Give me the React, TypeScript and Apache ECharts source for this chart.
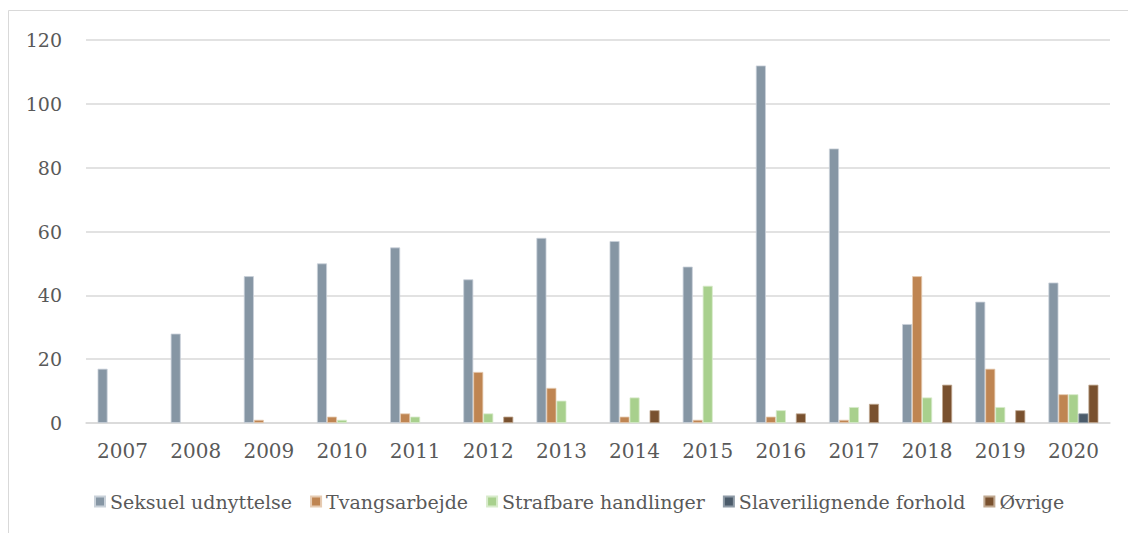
import React, { useEffect, useRef } from "react";
import * as echarts from "echarts";

const years = ["2007","2008","2009","2010","2011","2012","2013","2014","2015","2016","2017","2018","2019","2020"];
const seksuel = [17, 28, 46, 50, 55, 45, 58, 57, 49, 112, 86, 31, 38, 44];
const tvang = [0, 0, 1, 2, 3, 16, 11, 2, 1, 2, 1, 46, 17, 9];
const strafbare = [0, 0, 0, 1, 2, 3, 7, 8, 43, 4, 5, 8, 5, 9];
const slaveri = [0, 0, 0, 0, 0, 0, 0, 0, 0, 0, 0, 0, 0, 3];
const ovrige = [0, 0, 0, 0, 0, 2, 0, 4, 0, 3, 6, 12, 4, 12];
const yTicks = [0, 20, 40, 60, 80, 100, 120];

const seriesDefs = [
  { name: "Seksuel udnyttelse", data: seksuel, color: "#8696a4", border: "#c9d1d9" },
  { name: "Tvangsarbejde", data: tvang, color: "#bf8552", border: "#e6cbb2" },
  { name: "Strafbare handlinger", data: strafbare, color: "#a8d08d", border: "#d8ebcb" },
  { name: "Slaverilignende forhold", data: slaveri, color: "#4b5b6a", border: "#8e9aa6" },
  { name: "Øvrige", data: ovrige, color: "#79512f", border: "#c0a890" },
];

const FONT = "'DejaVu Serif', Georgia, serif";

export default function App() {
  const ref = useRef<HTMLDivElement>(null);
  useEffect(() => {
    const chart = echarts.init(ref.current!, null, { renderer: "svg" });
    chart.setOption({
      animation: false,
      backgroundColor: "#ffffff",
      graphic: [
        {
          type: "rect",
          shape: { x: 8.5, y: 10.5, width: 1130, height: 540 },
          style: { fill: "none", stroke: "#d9d9d9", lineWidth: 1 },
          silent: true,
        },
      ],
      grid: { left: 86, right: 18, top: 40, bottom: 110, containLabel: false },
      legend: {
        left: 89,
        top: 487,
        itemWidth: 10,
        itemHeight: 10,
        itemGap: 18,
        icon: "rect",
        textStyle: { fontFamily: FONT, fontSize: 19, color: "#595959" },
        data: seriesDefs.map((s) => s.name),
      },
      xAxis: {
        type: "category",
        data: years,
        axisLine: { lineStyle: { color: "#d9d9d9", width: 1.5 } },
        axisTick: { show: false },
        axisLabel: { fontFamily: FONT, fontSize: 20, color: "#595959", margin: 18 },
      },
      yAxis: {
        type: "value",
        min: 0,
        max: 120,
        interval: 20,
        axisLine: { show: false },
        axisTick: { show: false },
        splitLine: { lineStyle: { color: "#d9d9d9", width: 1.5 } },
        axisLabel: {
          fontFamily: FONT,
          fontSize: 19,
          color: "#595959",
          margin: 24,
          formatter: (v: number) => (yTicks.includes(v) ? String(v) : ""),
        },
      },
      series: seriesDefs.map((s) => ({
        name: s.name,
        type: "bar",
        data: s.data.map((v) => (v === 0 ? null : v)),
        barWidth: 10,
        barGap: "0%",
        itemStyle: { color: s.color, borderColor: s.border, borderWidth: 0.8 },
      })),
    });
    return () => chart.dispose();
  }, []);
  return (
    <div
      ref={ref}
      style={{ position: "absolute", left: 0, top: 0, width: 1128, height: 533 }}
    />
  );
}
